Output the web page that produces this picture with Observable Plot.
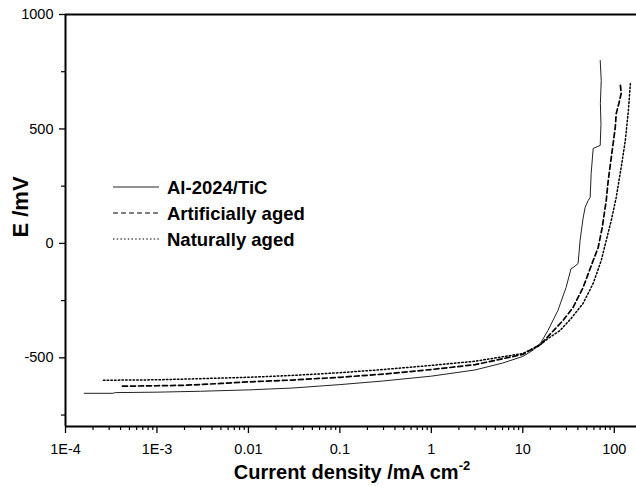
<!DOCTYPE html>
<html>
<head>
<meta charset="utf-8">
<script src="https://cdn.jsdelivr.net/npm/d3@7"></script>
<script src="https://cdn.jsdelivr.net/npm/@observablehq/plot@0.6"></script>
<style>
  html, body { margin: 0; padding: 0; background: #fff; }
  #chart { width: 636px; height: 486px; }
</style>
</head>
<body>
<div id="chart"></div>
<script>
// ---- data ----
const seriesNames = ["Al-2024/TiC", "Artificially aged", "Naturally aged"];

// [current density (mA cm^-2), E (mV)]
const alTiC = [
  [1.6e-4,-655],[3.3e-4,-655],[3.5e-4,-652],[1e-3,-650],[3e-3,-646],[0.01,-640],
  [0.03,-632],[0.1,-617],[0.3,-601],[1,-580],[3,-553],[6,-523],[10,-494],[13,-466],
  [15.8,-433],[18.8,-381],[24.2,-293],[29.7,-193],[33.7,-110],[36,-104],[40.2,-88],
  [42.3,13],[45.6,110],[48,157],[51.8,187],[54.5,201],[55.9,305],[58.8,415],
  [70.2,428],[71.5,520],[70.5,611],[72,712],[70.2,799]
];
const artificiallyAged = [
  [4.2e-4,-624],[1e-3,-622],[2e-3,-620],[5e-3,-612],[0.01,-605],[0.03,-597],
  [0.1,-585],[0.3,-571],[1,-551],[3,-530],[10,-485],[15.8,-440],[20.3,-393],
  [27.5,-337],[35.4,-280],[45.6,-193],[58.8,-75],[66.7,-18],[73.8,69],[81.7,188],
  [85.9,275],[92.7,375],[102.5,506],[105,567],[112,610],[119,655],[116,703]
];
const naturallyAged = [
  [2.6e-4,-598],[1e-3,-596],[3e-3,-591],[0.01,-585],[0.03,-577],[0.1,-565],
  [0.3,-551],[1,-533],[3,-515],[10,-481],[15,-448],[18.8,-416],[25.5,-381],
  [33.7,-328],[45.6,-262],[58.8,-175],[72,-75],[81.7,13],[92.7,100],[105,201],
  [119,332],[132,449],[142.6,580],[150,698]
];

const xTicks = [1e-4, 1e-3, 0.01, 0.1, 1, 10, 100];
const xTickLabels = ["1E-4", "1E-3", "0.01", "0.1", "1", "10", "100"];
const yTicks = [-500, 0, 500, 1000];
const yTickLabels = ["-500", "0", "500", "1000"];
const yMinorTicks = [-750, -250, 250, 750];
const xTitle = "Current density /mA cm";
const xTitleSup = "-2";
const yTitle = "E /mV";

// ---- build ----
const xMinorTicks = [];
for (let e = -4; e <= 2; e++) for (let k = 2; k <= 9; k++) {
  const v = k * Math.pow(10, e);
  if (v <= 175) xMinorTicks.push(v);
}
const toRows = (arr) => arr.map(([x, y]) => ({x, y}));
const styles = [
  {stroke: "#222", strokeWidth: 1, dash: null},
  {stroke: "#000", strokeWidth: 1.7, dash: "5,3"},
  {stroke: "#000", strokeWidth: 1.5, dash: "1.5,2.2"}
];
const series = [alTiC, artificiallyAged, naturallyAged];
const fontFamily = "'Liberation Sans', Arial, Helvetica, sans-serif";

const chart = Plot.plot({
  width: 636,
  height: 486,
  marginLeft: 65,
  marginRight: 0,
  marginTop: 14,
  marginBottom: 60,
  style: {fontFamily, fontSize: "14.5px", color: "#000", background: "#fff"},
  x: {type: "log", domain: [1e-4, 175]},
  y: {domain: [-800, 1000]},
  marks: [
    ...series.map((s, i) => Plot.line(toRows(s), {
      x: "x", y: "y",
      stroke: styles[i].stroke,
      strokeWidth: styles[i].strokeWidth,
      strokeDasharray: styles[i].dash ?? undefined
    })),
    Plot.axisX({ticks: xTicks, tickFormat: (d) => xTickLabels[xTicks.indexOf(d)], tickSize: 7, tickPadding: 10, label: null, strokeWidth: 1.3}),
    Plot.axisX({ticks: xMinorTicks, tickFormat: () => "", tickSize: 4, label: null, strokeWidth: 1.2}),
    Plot.axisY({ticks: yTicks, tickFormat: (d) => yTickLabels[yTicks.indexOf(d)], tickSize: 6, tickPadding: 6, label: null, strokeWidth: 1.3}),
    Plot.axisY({ticks: yMinorTicks, tickFormat: () => "", tickSize: 4, label: null, strokeWidth: 1.2}),
    Plot.ruleX([1e-4], {strokeWidth: 2}),
    Plot.ruleY([-800], {strokeWidth: 2}),
    Plot.ruleY([1000], {strokeWidth: 2})
  ]
});

document.getElementById("chart").appendChild(chart);

// ---- titles and legend ----
const svg = d3.select(chart);
const xt = svg.append("text")
  .attr("x", 352).attr("y", 479)
  .attr("text-anchor", "middle")
  .attr("font-family", fontFamily)
  .attr("font-weight", "bold")
  .attr("font-size", 20)
  .attr("fill", "#000");
xt.append("tspan").text(xTitle);
xt.append("tspan").attr("dy", -9).attr("font-size", 13).text(xTitleSup);

svg.append("text")
  .attr("transform", "translate(28,207) rotate(-90)")
  .attr("text-anchor", "middle")
  .attr("font-family", fontFamily)
  .attr("font-weight", "bold")
  .attr("font-size", 22)
  .attr("fill", "#000")
  .text(yTitle);

const lg = svg.append("g");
seriesNames.forEach((name, i) => {
  const yy = 187 + i * 26;
  lg.append("line")
    .attr("x1", 113).attr("x2", 159).attr("y1", yy).attr("y2", yy)
    .attr("stroke", styles[i].stroke)
    .attr("stroke-width", i === 0 ? 1 : 1.2)
    .attr("stroke-dasharray", styles[i].dash);
  lg.append("text")
    .attr("x", 167).attr("y", yy).attr("dy", "0.36em")
    .attr("text-anchor", "start")
    .attr("font-family", fontFamily)
    .attr("font-weight", "bold")
    .attr("font-size", 18.5)
    .attr("fill", "#000")
    .text(name);
});
</script>
</body>
</html>
